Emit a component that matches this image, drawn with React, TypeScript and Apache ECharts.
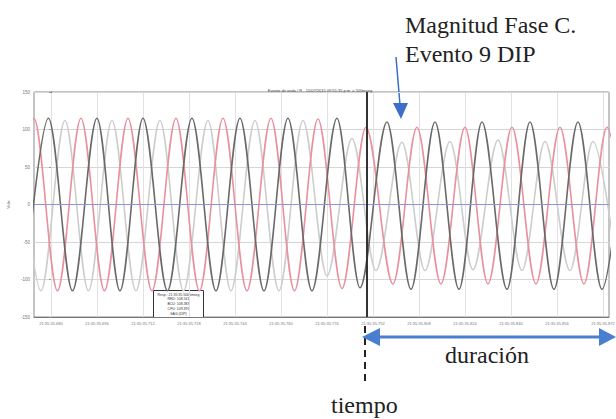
import React, { useEffect, useRef } from "react";
import * as echarts from "echarts";

// ---- axis ranges / ticks ----
const yMin = -150;
const yMax = 150;
const yStep = 50;
const xMin = -5.9;
const xMax = 194.1;
const gridTimes = [0, 16, 32, 48, 64, 80, 96, 112, 128, 144, 160, 176, 192];
const xTickLabels = [
  "21:35:35.680", "21:35:35.696", "21:35:35.712", "21:35:35.728", "21:35:35.744",
  "21:35:35.760", "21:35:35.776", "21:35:35.792", "21:35:35.808", "21:35:35.824",
  "21:35:35.840", "21:35:35.856", "21:35:35.872",
];
const eventTime = 110;

// ---- phase extremes (time ms, value) ----
const redT = [-14.26, -5.91, 2.26, 10.43, 18.61, 26.78, 35.13, 43.48, 51.65, 59.83, 68.17, 76.52, 84.7, 92.87, 101.22, 109.57, 118.96, 127.3, 135.65, 144.0, 152.0, 160.35, 168.7, 177.04, 185.39, 193.39, 201.7];
const redV = [-115, 115, -115, 115, -115, 115, -115, 115, -115, 115, -115, 115, -115, 114, -112, 103, -106, 103, -106, 103, -106, 103, -106, 103, -106, 103, -106];

const darkT = [-9.22, -0.87, 7.48, 16.0, 24.0, 32.0, 40.52, 49.04, 57.39, 65.74, 74.09, 82.43, 90.78, 99.48, 107.48, 116.87, 125.22, 133.57, 141.91, 149.91, 158.61, 166.61, 174.96, 183.3, 191.65, 200.0];
const darkV = [-115, 115, -115, 115, -115, 115, -115, 115, -115, 115, -115, 115, -115, 115, -111, 110, -113, 110, -113, 110, -113, 110, -113, 110, -113, 110];

const lightT = [-11.62, -3.48, 4.87, 13.04, 21.22, 29.57, 37.91, 46.09, 54.61, 62.61, 70.96, 79.3, 87.65, 96.0, 104.7, 113.04, 122.09, 130.09, 138.78, 146.78, 155.48, 163.83, 171.83, 180.52, 188.52, 196.87];
const lightV = [112, -115, 112, -115, 112, -115, 112, -115, 112, -115, 112, -115, 112, -95, 88, -88, 83, -88, 84, -87, 86, -88, 84, -88, 84, -88];

const legendLines = ["Resp.: 21:35:35.5060mseg", "RED: 108.541", "BCU: 108.383", "CFU: 109.391", "SAG (DIP)"];

const SERIF = "'Liberation Serif', 'DejaVu Serif', serif";

export default function App() {
  const ref = useRef<HTMLDivElement>(null);
  useEffect(() => {
    document.body.style.margin = "0";
    const chart = echarts.init(ref.current!, null, { renderer: "svg" });
    const mk = (T: number[], V: number[]) => T.map((t, i) => [t, V[i]]);
    const lineBase = {
      type: "line" as const,
      showSymbol: false,
      smooth: 0.33,
      smoothMonotone: "x" as const,
      clip: true,
    };
    chart.setOption({
      animation: false,
      backgroundColor: "#ffffff",
      title: {
        text: "Evento de onda / R - 15/07/2015 09:55:35 p.m. a 500mseg",
        left: 315,
        top: 83,
        textAlign: "center",
        textStyle: { fontSize: 4, color: "#444", fontWeight: "normal", fontFamily: "Arial" },
      },
      grid: {
        left: 34,
        right: 7,
        top: 92,
        bottom: 102,
        show: true,
        borderColor: "#8a8a8a",
        borderWidth: 1,
        outerBoundsMode: "none",
      },
      xAxis: {
        type: "value",
        min: xMin,
        max: xMax,
        axisLine: { onZero: false, lineStyle: { color: "#777" } },
        axisTick: {
          customValues: gridTimes,
          inside: true,
          length: 224,
          lineStyle: { color: "#e2e2e2", width: 1 },
        },
        splitLine: { show: false },
        axisLabel: {
          customValues: gridTimes,
          formatter: (v: number) => {
            const i = gridTimes.indexOf(Math.round(v));
            return i >= 0 ? xTickLabels[i] : "";
          },
          fontSize: 4,
          color: "#777",
          margin: 4,
          fontFamily: "Arial",
        },
      },
      yAxis: {
        type: "value",
        min: yMin,
        max: yMax,
        interval: yStep,
        name: "Volts",
        nameLocation: "middle",
        nameGap: 22,
        nameRotate: 90,
        nameTextStyle: { fontSize: 4, color: "#666" },
        axisLine: { show: true, lineStyle: { color: "#777" } },
        axisTick: { show: true, length: 2, lineStyle: { color: "#999" } },
        splitLine: { lineStyle: { color: "#d6d6d6", width: 1 } },
        axisLabel: { fontSize: 4.5, color: "#777", margin: 4, fontFamily: "Arial" },
      },
      series: [
        {
          ...lineBase,
          name: "C",
          data: mk(lightT, lightV),
          lineStyle: { color: "#cdcdcd", width: 1.6 },
          z: 2,
        },
        {
          ...lineBase,
          name: "A",
          data: mk(redT, redV),
          lineStyle: { color: "#e8909e", width: 1.6 },
          z: 3,
        },
        {
          ...lineBase,
          name: "B",
          data: mk(darkT, darkV),
          lineStyle: { color: "#6a6a6a", width: 1.6 },
          z: 4,
          markLine: {
            silent: true,
            symbol: "none",
            label: { show: false },
            data: [
              { yAxis: 0, lineStyle: { color: "#8a98d8", width: 1, type: "solid" } },
              { xAxis: eventTime, lineStyle: { color: "#333", width: 2, type: "solid" } },
            ],
          },
        },
      ],
      graphic: [
        // legend box
        {
          type: "group",
          left: 153,
          top: 290,
          children: [
            { type: "rect", shape: { x: 0, y: 0, width: 50, height: 27 }, style: { fill: "#fff", stroke: "#333", lineWidth: 1 } },
            ...legendLines.map((s, i) => ({
              type: "text",
              x: 25,
              y: 4 + i * 4.8,
              style: { text: s, fontSize: 3.5, fill: "#333", align: "center", verticalAlign: "middle", fontFamily: "Arial" },
            })),
          ],
        },
        // annotation texts
        { type: "text", x: 405, y: 25, style: { text: "Magnitud Fase C.", font: `24px ${SERIF}`, fill: "#222", verticalAlign: "middle" } },
        { type: "text", x: 405, y: 54, style: { text: "Evento 9 DIP", font: `24px ${SERIF}`, fill: "#222", verticalAlign: "middle" } },
        { type: "text", x: 445, y: 355, style: { text: "duración", font: `24px ${SERIF}`, fill: "#222", verticalAlign: "middle" } },
        { type: "text", x: 331, y: 405, style: { text: "tiempo", font: `24px ${SERIF}`, fill: "#222", verticalAlign: "middle" } },
        // pointer arrow
        { type: "line", shape: { x1: 396, y1: 57, x2: 400, y2: 105 }, style: { stroke: "#3d6ec8", lineWidth: 1.5 } },
        { type: "polygon", shape: { points: [[393, 103], [408, 103], [401, 119]] }, style: { fill: "#3d6ec8" } },
        // dashed time marker
        { type: "line", shape: { x1: 365, y1: 326, x2: 365, y2: 386 }, style: { stroke: "#222", lineWidth: 2, lineDash: [7, 5] } },
        // double arrow
        { type: "line", shape: { x1: 376, y1: 337, x2: 603, y2: 337 }, style: { stroke: "#4a7fd0", lineWidth: 3 } },
        { type: "polygon", shape: { points: [[362, 337], [380, 328], [380, 346]] }, style: { fill: "#4a7fd0" } },
        { type: "polygon", shape: { points: [[616, 337], [599, 328], [599, 346]] }, style: { fill: "#4a7fd0" } },
      ],
    });
    return () => chart.dispose();
  }, []);
  return <div ref={ref} style={{ width: 616, height: 419 }} />;
}
